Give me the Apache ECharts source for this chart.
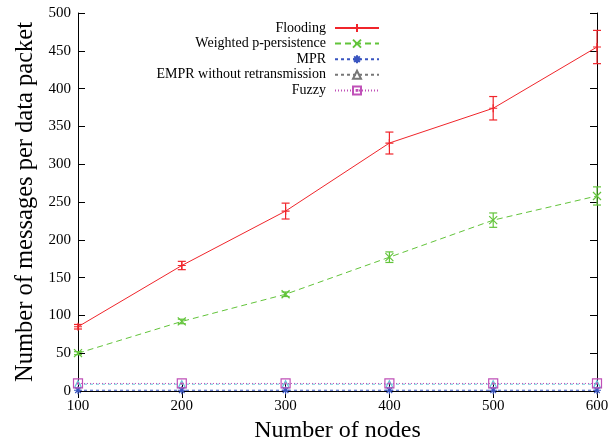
<!DOCTYPE html>
<html>
<head>
<meta charset="utf-8">
<script src="https://cdn.jsdelivr.net/npm/echarts@6/dist/echarts.min.js"></script>
<style>html,body{margin:0;padding:0;background:#fff}#c{width:608px;height:443px}</style>
</head>
<body>
<div id="c"></div>
<script>
var nodes = [100, 200, 300, 400, 500, 600];
var floodingVals = [85, 166, 238, 328, 374, 455];
var floodingErr = [3, 5.5, 10.5, 14.5, 15.5, 22];
var weightedVals = [50, 92, 128, 177, 226, 258];
var weightedErr = [2, 3, 3, 7, 9.5, 12];
var mprVals = [1, 1, 1, 1, 1, 1];
var emprVals = [9, 9, 9, 9, 9, 9];
var fuzzyVals = [10, 10, 10, 10, 10, 10];
var names = ['Flooding', 'Weighted p-persistence', 'MPR', 'EMPR without retransmission', 'Fuzzy'];

var FONT = '"Liberation Serif","Times New Roman",serif';
var pair = function (vals) { return nodes.map(function (x, i) { return [x, vals[i]]; }); };
var errData = function (vals, err) { return nodes.map(function (x, i) { return [x, vals[i] - err[i], vals[i] + err[i]]; }); };

var plusPath = 'path://M0,5L10,5M5,0L5,10';
var xPath = 'path://M0,0L10,10M10,0L0,10';
var starPath = 'path://M0,5L10,5M5,0L5,10M1.5,1.5L8.5,8.5M8.5,1.5L1.5,8.5';
var triPath = 'path://M5,0L10,9L0,9Z';
var sqPath = 'path://M0,0L10,0L10,10L0,10ZM4.5,4.5L5.5,4.5L5.5,5.5L4.5,5.5Z';

function errSeries(vals, err, color) {
  return {
    type: 'custom',
    data: errData(vals, err),
    encode: { x: 0, y: [1, 2] },
    clip: false,
    silent: true,
    z: 3,
    renderItem: function (params, api) {
      var x = api.value(0);
      var lo = api.coord([x, api.value(1)]);
      var hi = api.coord([x, api.value(2)]);
      var w = 4;
      var st = { stroke: color, lineWidth: 1.2 };
      return {
        type: 'group',
        children: [
          { type: 'line', shape: { x1: lo[0], y1: lo[1], x2: hi[0], y2: hi[1] }, style: st },
          { type: 'line', shape: { x1: lo[0] - w, y1: lo[1], x2: lo[0] + w, y2: lo[1] }, style: st },
          { type: 'line', shape: { x1: hi[0] - w, y1: hi[1], x2: hi[0] + w, y2: hi[1] }, style: st }
        ]
      };
    }
  };
}

function lineSeries(name, vals, color, type, symbol, size, z) {
  return {
    name: name,
    type: 'line',
    data: pair(vals),
    symbol: symbol,
    symbolSize: size,
    showAllSymbol: true,
    clip: false,
    z: z || 4,
    lineStyle: { color: color, width: 1, type: type },
    itemStyle: { color: 'none', borderColor: color, borderWidth: 1.2 },
    emphasis: { disabled: true }
  };
}

var chart = echarts.init(document.getElementById('c'), null, { renderer: 'canvas' });
var axisCommon = {
  axisLine: { show: true, lineStyle: { color: '#000', width: 1 } },
  axisTick: { show: true, inside: true, length: 7, lineStyle: { color: '#000', width: 1 } },
  splitLine: { show: false }
};
chart.setOption({
  animation: false,
  backgroundColor: '#fff',
  grid: { left: 78, right: 11, top: 13, bottom: 52, containLabel: false, outerBoundsMode: 'none' },
  legend: {
    orient: 'vertical',
    right: 228,
    top: 21,
    align: 'right',
    itemWidth: 44,
    itemHeight: 10,
    itemGap: 1.6,
    padding: 0,
    textStyle: { fontFamily: FONT, fontSize: 14, color: '#000', padding: [0, 4, 0, 0] },
    data: [
      { name: names[0] },
      { name: names[1] },
      { name: names[2] },
      { name: names[3], itemStyle: { borderColor: '#777' }, lineStyle: { color: '#777' } },
      { name: names[4] }
    ],
    selectedMode: false
  },
  xAxis: [
    Object.assign({
      type: 'value', min: 100, max: 600, interval: 100,
      name: 'Number of nodes', nameLocation: 'middle', nameGap: 28,
      nameTextStyle: { fontFamily: FONT, fontSize: 24, color: '#000' },
      axisLabel: { fontFamily: FONT, fontSize: 15, color: '#000', margin: 8 }
    }, axisCommon),
    Object.assign({
      type: 'value', min: 100, max: 600, interval: 100, position: 'top',
      axisLabel: { show: false }
    }, axisCommon)
  ],
  yAxis: [
    Object.assign({
      type: 'value', min: 0, max: 500, interval: 50,
      name: 'Number of messages per data packet', nameLocation: 'middle', nameGap: 34,
      nameTextStyle: { fontFamily: FONT, fontSize: 24.5, color: '#000' },
      axisLabel: { fontFamily: FONT, fontSize: 15, color: '#000', margin: 7 }
    }, axisCommon),
    Object.assign({
      type: 'value', min: 0, max: 500, interval: 50, position: 'right',
      axisLabel: { show: false }
    }, axisCommon)
  ],
  series: [
    lineSeries(names[0], floodingVals, '#f0252b', 'solid', plusPath, 8, 5),
    lineSeries(names[1], weightedVals, '#62c43a', [6, 4], xPath, 8, 5),
    lineSeries(names[2], mprVals, '#3a55c0', [3, 3], starPath, 8, 4),
    lineSeries(names[3], emprVals, '#66c6d8', [3, 3], triPath, 7, 3),
    lineSeries(names[4], fuzzyVals, '#c050b8', [1, 2], sqPath, 9, 4),
    errSeries(floodingVals, floodingErr, '#f0252b'),
    errSeries(weightedVals, weightedErr, '#62c43a')
  ]
});
</script>
</body>
</html>
